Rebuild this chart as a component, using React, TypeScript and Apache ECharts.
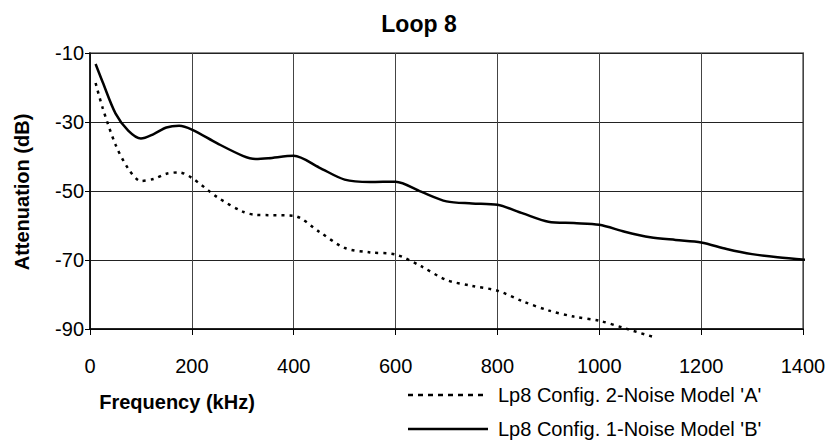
import React, { useEffect, useRef } from "react";
import * as echarts from "echarts";

const xTicks = [0, 200, 400, 600, 800, 1000, 1200, 1400];
const yTicks = [-90, -70, -50, -30, -10];

const freqA = [11, 25, 50, 75, 100, 125, 150, 175, 200, 250, 300, 325, 350, 400, 450, 500, 550, 600, 650, 700, 750, 800, 850, 900, 950, 1000, 1050, 1106];
const attA = [-18.7, -26, -36.5, -43.5, -47.1, -46.5, -45, -44.6, -46.2, -51.8, -56, -56.9, -57, -57.2, -61.8, -66.5, -67.8, -68.4, -71.8, -75.8, -77.5, -78.9, -82, -84.6, -86.4, -87.6, -89.8, -92.3];

const freqB = [11, 25, 50, 75, 100, 125, 150, 175, 200, 250, 300, 325, 350, 400, 450, 500, 550, 600, 650, 700, 750, 800, 850, 900, 950, 1000, 1050, 1100, 1150, 1200, 1250, 1300, 1350, 1413];
const attB = [-13.2, -18.5, -27.5, -32.5, -34.8, -33.5, -31.6, -31.1, -32.2, -36.2, -39.8, -40.7, -40.5, -39.8, -43.2, -46.7, -47.4, -47.3, -50.2, -53, -53.6, -54.0, -56.5, -58.9, -59.3, -59.8, -61.8, -63.4, -64.2, -64.9, -66.8, -68.3, -69.2, -70.0];

const nameA = "Lp8 Config. 2-Noise Model 'A'";
const nameB = "Lp8 Config. 1-Noise Model 'B'";
const titleText = "Loop 8";
const xName = "Frequency (kHz)";
const yName = "Attenuation (dB)";

const FONT = "Liberation Sans, Arial, sans-serif";

export default function App() {
  const ref = useRef<HTMLDivElement>(null);
  useEffect(() => {
    document.body.style.margin = "0";
    const chart = echarts.init(ref.current!, null, { renderer: "svg" });
    const dataA = freqA.map((f, i) => [f, attA[i]]);
    const dataB = freqB.map((f, i) => [f, attB[i]]);
    const legendText = (text: string, y: number) => ({
      type: "text",
      x: 498,
      y,
      style: {
        text,
        fontSize: 20,
        fontFamily: FONT,
        fill: "#000",
        textAlign: "left",
        textVerticalAlign: "middle",
      },
    });
    chart.setOption({
      animation: false,
      backgroundColor: "#ffffff",
      textStyle: { fontFamily: FONT },
      grid: {
        left: 90,
        right: 28,
        top: 53,
        bottom: 112,
        show: true,
        borderColor: "#8a8a8a",
        borderWidth: 2,
        backgroundColor: "transparent",
      },
      xAxis: {
        type: "value",
        min: xTicks[0],
        max: xTicks[xTicks.length - 1],
        interval: 200,
        axisLine: { show: true, onZero: false, lineStyle: { color: "#000", width: 1.5 } },
        axisTick: { show: true, length: 6, lineStyle: { color: "#000" } },
        splitLine: { show: true, lineStyle: { color: "#444", width: 1 } },
        axisLabel: {
          color: "#000",
          fontSize: 20,
          fontFamily: FONT,
          margin: 27,
          formatter: (v: number) => String(v),
        },
      },
      yAxis: {
        type: "value",
        min: yTicks[0],
        max: yTicks[yTicks.length - 1],
        interval: 20,
        axisLine: { show: true, lineStyle: { color: "#000", width: 1.5 } },
        axisTick: { show: true, length: 5, lineStyle: { color: "#000" } },
        splitLine: { show: true, lineStyle: { color: "#222", width: 1 } },
        axisLabel: {
          color: "#000",
          fontSize: 20,
          fontFamily: FONT,
          margin: 6,
          formatter: (v: number) => String(v),
        },
      },
      graphic: [
        {
          type: "text",
          x: 419,
          y: 24,
          style: {
            text: titleText,
            fontSize: 23,
            fontWeight: "bold",
            fontFamily: FONT,
            fill: "#000",
            textAlign: "center",
            textVerticalAlign: "middle",
          },
        },
        {
          type: "text",
          x: 177,
          y: 402,
          style: {
            text: xName,
            fontSize: 20,
            fontWeight: "bold",
            fontFamily: FONT,
            fill: "#000",
            textAlign: "center",
            textVerticalAlign: "middle",
          },
        },
        {
          type: "text",
          x: 22,
          y: 192,
          rotation: Math.PI / 2,
          style: {
            text: yName,
            fontSize: 20,
            fontWeight: "bold",
            fontFamily: FONT,
            fill: "#000",
            textAlign: "center",
            textVerticalAlign: "middle",
          },
        },
        {
          type: "line",
          shape: { x1: 408, y1: 395, x2: 488, y2: 395 },
          style: { stroke: "#000", lineWidth: 2.5, lineDash: [5, 5] },
        },
        legendText(nameA, 395),
        {
          type: "line",
          shape: { x1: 408, y1: 429, x2: 488, y2: 429 },
          style: { stroke: "#000", lineWidth: 2.5 },
        },
        legendText(nameB, 429),
      ],
      series: [
        {
          name: nameA,
          type: "line",
          data: dataA,
          smooth: 0.3,
          symbol: "none",
          clip: false,
          lineStyle: { color: "#000", width: 2.5, type: [3, 5] },
          itemStyle: { color: "#000" },
        },
        {
          name: nameB,
          type: "line",
          data: dataB,
          smooth: 0.3,
          symbol: "none",
          clip: false,
          lineStyle: { color: "#000", width: 2.5, type: "solid" },
          itemStyle: { color: "#000" },
        },
      ],
    });
    return () => chart.dispose();
  }, []);
  return (
    <div
      ref={ref}
      style={{ position: "fixed", left: 0, top: 0, width: 831, height: 441 }}
    />
  );
}
